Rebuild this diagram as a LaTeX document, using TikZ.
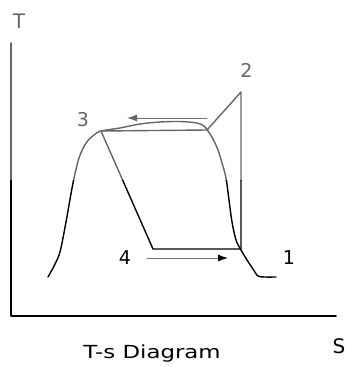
\documentclass[tikz,border=0pt]{standalone}
\usepackage{fontspec}
\setmainfont{DejaVu Sans}
\usetikzlibrary{arrows.meta}
\begin{document}
\begin{tikzpicture}[x=1pt,y=-1pt, line join=round, line cap=round,
  lbl/.style={font=\fontsize{19}{19}\selectfont, anchor=base, inner sep=0pt},
  biglbl/.style={font=\fontsize{20}{20}\selectfont, anchor=base, inner sep=0pt},
  curve/.style={draw=ink, line width=1.4pt},
  axisline/.style={draw=ink, line width=1.6pt},
  flowarrow/.style={draw=black!55, line width=1pt}]
\useasboundingbox (0,0) rectangle (347,367);
\fill[white] (0,0) rectangle (347,367);
% state points
\coordinate (p1) at (241,249);
\coordinate (p2) at (241,92);
\coordinate (p3) at (101,131);
\coordinate (p4) at (153,249);
\coordinate (sat) at (207,130);
\coordinate (o) at (11,316);
\coordinate (ytop) at (11,43);
\coordinate (xend) at (336,316);
\def\tsdrawall{%
  \draw[axisline] (ytop) -- (o) -- (xend);
  \draw[curve] plot[smooth, tension=0.5] coordinates {
    (48,277) (54,266) (60,252) (66,222) (73,183) (79,158) (86,143) (94,135)
    (101,131) (120,128) (140,124) (160,122) (180,121.5) (197,123) (204,126)
    (208,131) (213,139) (218,150) (222,163) (226,178) (229,200) (232,222)
    (236,240) (241,250) (247,260) (253,269) (258,276) (265,277) (276,277)};
  \draw[curve] (p3) -- (p4) -- (p1) -- (p2) -- (sat) -- (p3);
}
\begin{scope}
  \clip (0,0) rectangle (347,180);
  \colorlet{ink}{black!60}
  \tsdrawall
\end{scope}
\begin{scope}
  \clip (0,180) rectangle (347,367);
  \colorlet{ink}{black}
  \tsdrawall
\end{scope}
% process arrows
\coordinate (a1s) at (207,118);
\coordinate (a1e) at (127,118);
\coordinate (a2s) at (147,258);
\coordinate (a2e) at (228,258);
\draw[flowarrow, -{Latex[length=10pt,width=7pt,color=black!60]}] (a1s) -- (a1e);
\draw[flowarrow, -{Latex[length=10pt,width=7pt,color=black]}] (a2s) -- (a2e);
% labels
\node[biglbl, text=black!60] (lT) at (19,28) {T};
\node[lbl, text=black!60] (l2) at (246.5,77) {2};
\node[lbl, text=black!60] (l3) at (83,126) {3};
\node[lbl] (l4) at (125,264) {4};
\node[lbl] (l1) at (289,264) {1};
\node[biglbl] (lS) at (339,353) {S};
\node[font=\fontsize{18}{18}\selectfont, anchor=base, inner sep=0pt] (cap) at (152,358) {\scalebox{1.27}[1]{T-s Diagram}};
\end{tikzpicture}
\end{document}
